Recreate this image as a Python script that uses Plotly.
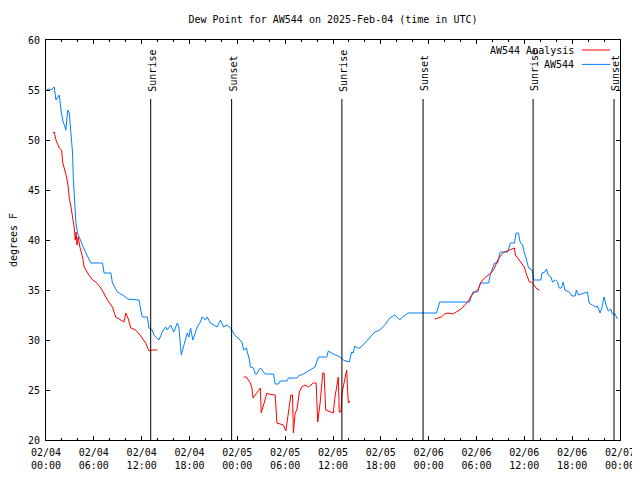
import plotly.graph_objects as go

# ---------------- data ----------------
aw_times = [
    "2025-02-04 00:05", "2025-02-04 00:17", "2025-02-04 00:38", "2025-02-04 01:02", "2025-02-04 01:15",
    "2025-02-04 01:40", "2025-02-04 01:53", "2025-02-04 02:05", "2025-02-04 02:30", "2025-02-04 02:43",
    "2025-02-04 02:55", "2025-02-04 03:08", "2025-02-04 03:20", "2025-02-04 03:25", "2025-02-04 03:32",
    "2025-02-04 03:38", "2025-02-04 03:45", "2025-02-04 03:58", "2025-02-04 04:10", "2025-02-04 04:23",
    "2025-02-04 04:40", "2025-02-04 05:00", "2025-02-04 05:38", "2025-02-04 07:05", "2025-02-04 07:17",
    "2025-02-04 08:08", "2025-02-04 08:20", "2025-02-04 08:58", "2025-02-04 09:10", "2025-02-04 10:00",
    "2025-02-04 10:13", "2025-02-04 11:40", "2025-02-04 11:53", "2025-02-04 12:05", "2025-02-04 12:43",
    "2025-02-04 12:55", "2025-02-04 13:20", "2025-02-04 13:32", "2025-02-04 14:10", "2025-02-04 14:35",
    "2025-02-04 15:00", "2025-02-04 15:13", "2025-02-04 15:38", "2025-02-04 16:02", "2025-02-04 16:28",
    "2025-02-04 16:40", "2025-02-04 16:58", "2025-02-04 17:17", "2025-02-04 17:43", "2025-02-04 17:55",
    "2025-02-04 18:08", "2025-02-04 18:25", "2025-02-04 18:45", "2025-02-04 18:58", "2025-02-04 19:23",
    "2025-02-04 19:35", "2025-02-04 20:00", "2025-02-04 20:13", "2025-02-04 20:38", "2025-02-04 21:02",
    "2025-02-04 21:28", "2025-02-04 21:53", "2025-02-04 22:17", "2025-02-04 22:43", "2025-02-04 23:02",
    "2025-02-04 23:20", "2025-02-04 23:38", "2025-02-04 23:58",
    "2025-02-05 00:35", "2025-02-05 00:47", "2025-02-05 01:08", "2025-02-05 01:17", "2025-02-05 01:32",
    "2025-02-05 01:38", "2025-02-05 02:02", "2025-02-05 02:15", "2025-02-05 02:28", "2025-02-05 02:40",
    "2025-02-05 02:53", "2025-02-05 03:05", "2025-02-05 03:30", "2025-02-05 04:32", "2025-02-05 04:45",
    "2025-02-05 05:10", "2025-02-05 05:23", "2025-02-05 06:13", "2025-02-05 06:25", "2025-02-05 07:28",
    "2025-02-05 07:40", "2025-02-05 08:17", "2025-02-05 08:43", "2025-02-05 09:08", "2025-02-05 09:45",
    "2025-02-05 10:10", "2025-02-05 11:13", "2025-02-05 11:25", "2025-02-05 12:02", "2025-02-05 12:53",
    "2025-02-05 13:17", "2025-02-05 14:02", "2025-02-05 14:20", "2025-02-05 14:32", "2025-02-05 14:45",
    "2025-02-05 15:02", "2025-02-05 15:23", "2025-02-05 16:00", "2025-02-05 16:38", "2025-02-05 17:15",
    "2025-02-05 17:53", "2025-02-05 18:30", "2025-02-05 19:08", "2025-02-05 19:45", "2025-02-05 20:23",
    "2025-02-05 20:35", "2025-02-05 21:25",
    "2025-02-06 00:58", "2025-02-06 01:10", "2025-02-06 01:23", "2025-02-06 05:08", "2025-02-06 05:20",
    "2025-02-06 05:32", "2025-02-06 06:10", "2025-02-06 06:28", "2025-02-06 07:32", "2025-02-06 07:43",
    "2025-02-06 08:15", "2025-02-06 08:40", "2025-02-06 08:58", "2025-02-06 09:55", "2025-02-06 10:15",
    "2025-02-06 10:45", "2025-02-06 10:58", "2025-02-06 11:15", "2025-02-06 11:28", "2025-02-06 11:47",
    "2025-02-06 12:00", "2025-02-06 12:13", "2025-02-06 12:32", "2025-02-06 12:50", "2025-02-06 13:02",
    "2025-02-06 13:08", "2025-02-06 14:05", "2025-02-06 14:13", "2025-02-06 14:35", "2025-02-06 14:47",
    "2025-02-06 15:00", "2025-02-06 15:20", "2025-02-06 15:32", "2025-02-06 15:53", "2025-02-06 16:10",
    "2025-02-06 16:23", "2025-02-06 16:40", "2025-02-06 16:53", "2025-02-06 17:05", "2025-02-06 17:38",
    "2025-02-06 17:58", "2025-02-06 18:23", "2025-02-06 18:32", "2025-02-06 18:47", "2025-02-06 19:55",
    "2025-02-06 20:08", "2025-02-06 20:32", "2025-02-06 20:58", "2025-02-06 21:10", "2025-02-06 21:30",
    "2025-02-06 21:43", "2025-02-06 22:00", "2025-02-06 22:17", "2025-02-06 22:32", "2025-02-06 22:50",
    "2025-02-06 23:02", "2025-02-06 23:23", "2025-02-06 23:40",
]
aw_dewpoint = [
    55.0, 55.1, 55.0, 55.3, 54.0, 54.5, 53.0, 52.0, 51.0, 53.0,
    52.7, 51.0, 48.7, 46.3, 44.3, 42.7, 41.7, 40.7, 40.3, 39.7,
    39.3, 38.7, 37.7, 37.7, 36.7, 36.7, 35.7, 34.8, 34.7, 34.3,
    34.1, 34.0, 33.0, 32.3, 32.3, 31.2, 31.0, 30.5, 30.0, 30.8,
    31.3, 31.0, 31.5, 30.8, 31.7, 31.3, 28.5, 29.5, 30.7, 30.3,
    31.2, 30.0, 30.7, 31.3, 31.8, 32.3, 32.0, 32.3, 31.7, 31.5,
    31.3, 32.0, 31.3, 31.5, 31.3, 31.0, 30.5, 30.3,
    29.8, 29.0, 29.2, 28.7, 28.0, 27.3, 27.2, 26.6, 26.6, 27.0,
    27.2, 27.0, 26.6, 26.6, 25.6, 25.6, 25.9, 25.9, 26.2, 26.2,
    26.4, 26.6, 26.8, 27.0, 27.3, 28.3, 28.3, 28.9, 28.6, 28.3,
    28.0, 27.8, 28.8, 28.7, 29.4, 29.2, 29.2, 29.7, 30.3, 30.8,
    31.0, 31.5, 32.2, 32.5, 32.0, 32.2, 32.7,
    32.7, 33.2, 33.8, 33.8, 34.3, 34.8, 34.8, 35.7, 35.7, 36.5,
    37.7, 37.7, 38.8, 38.8, 39.7, 39.7, 40.7, 40.7, 39.8, 39.5,
    38.7, 38.2, 37.2, 37.1, 36.8, 36.0, 36.0, 36.7, 36.8, 37.1,
    36.5, 36.3, 35.8, 36.0, 35.8, 35.2, 35.2, 35.8, 35.0, 34.8,
    34.4, 34.4, 35.0, 34.5, 34.8, 33.7, 33.5, 33.3, 33.4, 32.7,
    33.2, 34.3, 33.4, 32.9, 33.1, 32.6, 32.6, 32.1,
]

an_times = [
    "2025-02-04 00:50", "2025-02-04 01:02", "2025-02-04 01:15", "2025-02-04 01:40", "2025-02-04 01:58",
    "2025-02-04 02:05", "2025-02-04 02:17", "2025-02-04 02:35", "2025-02-04 02:47", "2025-02-04 02:55",
    "2025-02-04 03:08", "2025-02-04 03:20", "2025-02-04 03:32", "2025-02-04 03:40", "2025-02-04 03:47",
    "2025-02-04 03:53", "2025-02-04 04:02", "2025-02-04 04:15", "2025-02-04 04:35", "2025-02-04 04:47",
    "2025-02-04 05:13", "2025-02-04 05:50", "2025-02-04 06:15", "2025-02-04 06:53", "2025-02-04 07:43",
    "2025-02-04 08:20", "2025-02-04 08:45", "2025-02-04 09:23", "2025-02-04 09:47", "2025-02-04 10:00",
    "2025-02-04 10:17", "2025-02-04 10:38", "2025-02-04 11:15", "2025-02-04 11:53", "2025-02-04 12:17",
    "2025-02-04 12:30", "2025-02-04 12:55", "2025-02-04 13:20", "2025-02-04 13:58",
    "2025-02-04 18:00",
    "2025-02-05 00:47", "2025-02-05 01:08", "2025-02-05 01:38", "2025-02-05 01:50", "2025-02-05 01:58",
    "2025-02-05 02:28", "2025-02-05 02:53", "2025-02-05 03:00", "2025-02-05 03:23", "2025-02-05 03:43",
    "2025-02-05 03:55", "2025-02-05 04:45", "2025-02-05 04:58", "2025-02-05 05:47", "2025-02-05 06:05",
    "2025-02-05 06:25", "2025-02-05 06:43", "2025-02-05 06:55", "2025-02-05 07:02", "2025-02-05 07:15",
    "2025-02-05 07:28", "2025-02-05 07:47", "2025-02-05 08:05", "2025-02-05 08:30", "2025-02-05 08:55",
    "2025-02-05 09:32", "2025-02-05 09:53", "2025-02-05 10:05", "2025-02-05 10:23", "2025-02-05 10:43",
    "2025-02-05 10:53", "2025-02-05 11:05", "2025-02-05 11:38", "2025-02-05 12:02", "2025-02-05 12:15",
    "2025-02-05 12:40", "2025-02-05 12:47", "2025-02-05 13:00", "2025-02-05 13:08", "2025-02-05 13:30",
    "2025-02-05 13:43", "2025-02-05 13:55", "2025-02-05 14:08",
    "2025-02-05 20:00",
    "2025-02-06 00:45", "2025-02-06 01:10", "2025-02-06 01:35", "2025-02-06 02:00", "2025-02-06 02:25",
    "2025-02-06 03:02", "2025-02-06 03:28", "2025-02-06 04:05", "2025-02-06 04:30", "2025-02-06 04:55",
    "2025-02-06 05:20", "2025-02-06 05:45", "2025-02-06 06:10", "2025-02-06 06:35", "2025-02-06 07:00",
    "2025-02-06 07:25", "2025-02-06 07:50", "2025-02-06 08:15", "2025-02-06 08:40", "2025-02-06 09:05",
    "2025-02-06 09:30", "2025-02-06 10:08", "2025-02-06 10:32", "2025-02-06 10:45", "2025-02-06 10:53",
    "2025-02-06 11:10", "2025-02-06 11:35", "2025-02-06 12:00", "2025-02-06 12:13", "2025-02-06 12:25",
    "2025-02-06 12:38", "2025-02-06 12:55", "2025-02-06 13:15", "2025-02-06 13:35", "2025-02-06 13:53",
]
an_dewpoint = [
    50.7, 50.8, 50.0, 49.2, 49.0, 47.8, 47.2, 46.3, 45.3, 44.2,
    43.3, 42.3, 41.3, 40.0, 40.8, 39.5, 40.3, 39.3, 38.3, 37.3,
    36.7, 36.0, 35.8, 35.2, 34.0, 33.3, 32.3, 32.0, 31.8, 32.7,
    32.2, 31.2, 31.0, 30.4, 30.0, 29.7, 28.9, 29.0, 29.0,
    None,
    26.3, 26.3, 25.7, 25.2, 24.2, 24.7, 25.2, 22.7, 23.7, 24.7,
    24.6, 24.5, 21.7, 21.5, 20.9, 22.7, 24.5, 24.5, 20.7, 22.7,
    23.0, 24.8, 25.3, 25.5, 25.3, 25.7, 25.7, 21.8, 23.7, 26.7,
    26.7, 23.0, 22.8, 22.7, 24.3, 26.3, 22.8, 22.8, 24.7, 26.0,
    27.0, 23.7, 23.9,
    None,
    32.1, 32.2, 32.3, 32.6, 32.7, 32.6, 32.8, 33.1, 33.5, 33.8,
    34.4, 34.8, 35.0, 35.8, 36.2, 36.5, 36.7, 37.2, 38.0, 38.5,
    38.8, 39.0, 39.1, 39.2, 38.5, 38.2, 37.8, 37.3, 36.7, 36.2,
    35.8, 35.8, 35.5, 35.1, 35.0,
]

sun_times = ["2025-02-04 13:08", "2025-02-04 23:17", "2025-02-05 13:07",
             "2025-02-05 23:18", "2025-02-06 13:06", "2025-02-06 23:15"]
sun_labels = ["Sunrise", "Sunset", "Sunrise", "Sunset", "Sunrise", "Sunset"]

x_tick_vals = ["2025-02-04 00:00", "2025-02-04 06:00", "2025-02-04 12:00", "2025-02-04 18:00",
               "2025-02-05 00:00", "2025-02-05 06:00", "2025-02-05 12:00", "2025-02-05 18:00",
               "2025-02-06 00:00", "2025-02-06 06:00", "2025-02-06 12:00", "2025-02-06 18:00",
               "2025-02-07 00:00"]
x_tick_text = ["02/04<br>00:00", "02/04<br>06:00", "02/04<br>12:00", "02/04<br>18:00",
               "02/05<br>00:00", "02/05<br>06:00", "02/05<br>12:00", "02/05<br>18:00",
               "02/06<br>00:00", "02/06<br>06:00", "02/06<br>12:00", "02/06<br>18:00",
               "02/07<br>00:00"]

series_names = ["AW544 Analysis", "AW544"]
series_colors = ["#ff0000", "#0080ff"]

FONT = "DejaVu Sans Mono"
# the page body has an 8px margin, so the figure is offset accordingly
PAGE_PAD = 8
W, H = 640, 480 - 2 * PAGE_PAD
ML, MR, MT, MB = 46 - PAGE_PAD, 20 + PAGE_PAD, 40 - PAGE_PAD, 32

fig = go.Figure()
fig.add_trace(go.Scatter(x=aw_times, y=aw_dewpoint, mode="lines", name=series_names[1],
                         line=dict(color=series_colors[1], width=1), connectgaps=False))
fig.add_trace(go.Scatter(x=an_times, y=an_dewpoint, mode="lines", name=series_names[0],
                         line=dict(color=series_colors[0], width=1), connectgaps=False))

shapes = []
annotations = []
for t, lab in zip(sun_times, sun_labels):
    shapes.append(dict(type="line", xref="x", yref="y", x0=t, x1=t, y0=20, y1=54.1,
                       line=dict(color="black", width=1)))
    annotations.append(dict(x=t, y=54.75, xref="x", yref="y", text=lab, textangle=-90,
                            showarrow=False, xanchor="center", yanchor="bottom", xshift=1.5,
                            font=dict(family=FONT, size=10, color="black"),
                            borderpad=0))

# manual gnuplot-style key (text right, sample line after)
key_y = [0.975, 0.939]
for name, col, ky in zip(series_names, series_colors, key_y):
    annotations.append(dict(x=0.921, y=ky, xref="paper", yref="paper", text=name,
                            showarrow=False, xanchor="right", yanchor="middle",
                            font=dict(family=FONT, size=10, color="black"), borderpad=0))
    shapes.append(dict(type="line", xref="paper", yref="paper", x0=0.9335, x1=0.983,
                       y0=ky, y1=ky, line=dict(color=col, width=1)))

fig.update_layout(
    width=W, height=H,
    margin=dict(l=ML, r=MR, t=MT, b=MB, autoexpand=False),
    plot_bgcolor="white", paper_bgcolor="white",
    font=dict(family=FONT, size=10, color="black"),
    showlegend=False,
    title=dict(text="Dew Point for AW544 on 2025-Feb-04 (time in UTC)",
               x=0.5, xref="paper", xanchor="center",
               y=1 - (19 - PAGE_PAD) / H, yref="container", yanchor="middle",
               font=dict(family=FONT, size=10, color="black")),
    shapes=shapes, annotations=annotations,
)
fig.update_xaxes(
    type="date", range=["2025-02-04 00:00", "2025-02-07 00:00"],
    tickmode="array", tickvals=x_tick_vals, ticktext=x_tick_text,
    ticks="inside", ticklen=4, tickcolor="black", tickwidth=1,
    showline=True, linecolor="black", linewidth=1, mirror="allticks",
    showgrid=False, zeroline=False, automargin=False, ticklabelstandoff=3,
    minor=dict(ticks="inside", ticklen=2, tickcolor="black", dtick=2 * 3600 * 1000,
               tick0="2025-02-04 00:00", showgrid=False),
    tickfont=dict(family=FONT, size=10, color="black"),
)
fig.update_yaxes(
    range=[20, 60], dtick=5, tick0=20,
    ticks="inside", ticklen=4, tickcolor="black", tickwidth=1,
    showline=True, linecolor="black", linewidth=1, mirror="allticks",
    showgrid=False, zeroline=False, automargin=False, ticklabelstandoff=3,
    title=dict(text="degrees F", standoff=15, font=dict(family=FONT, size=10, color="black")),
    tickfont=dict(family=FONT, size=10, color="black"),
)

fig.write_html("out.html")
